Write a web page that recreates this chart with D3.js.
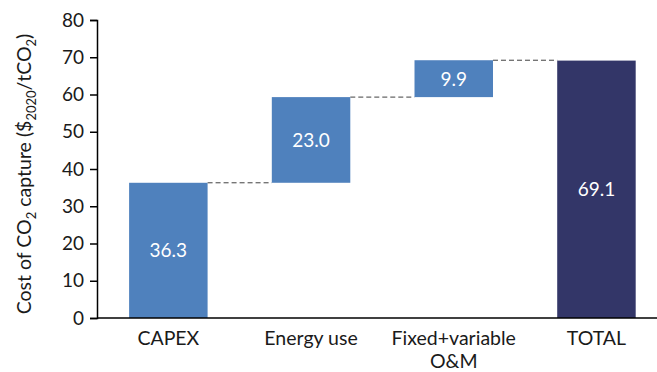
<!DOCTYPE html>
<html>
<head>
<meta charset="utf-8">
<script src="https://cdn.jsdelivr.net/npm/d3@7"></script>
<style>
  html, body { margin: 0; padding: 0; background: #fff; }
  svg { display: block; font-family: Lato, "Open Sans", sans-serif; }
</style>
</head>
<body>
<svg id="chart" width="657" height="372"></svg>
<script>
// Waterfall of the cost of CO2 capture
const categories = ["CAPEX", "Energy use", "Fixed+variable\nO&M", "TOTAL"];
const stepValues = [36.3, 23.0, 9.9];
const totalValue = 69.1;
const yTicks = [0, 10, 20, 30, 40, 50, 60, 70, 80];

const stepColor = "#4F81BD";
const totalColor = "#333668";

const svg = d3.select("#chart");
const W = 657, H = 372;
const m = { left: 97, top: 20, bottom: 54 };
const plotBottom = H - m.bottom;

const x = d3.scaleBand()
  .domain(categories)
  .range([m.left, m.left + 4 * 142.7])
  .paddingInner(0.45)
  .paddingOuter(0.225);

const y = d3.scaleLinear().domain([0, 80]).range([plotBottom, m.top]);

// Build bar extents: floating steps then a full total bar
const bars = [];
let run = 0;
stepValues.forEach((v, i) => {
  bars.push({ cat: categories[i], y0: run, y1: run + v, value: v, total: false });
  run += v;
});
bars.push({ cat: categories[3], y0: 0, y1: totalValue, value: totalValue, total: true });

// Connector lines between consecutive bars
const conn = svg.append("g");
for (let i = 0; i < bars.length - 1; i++) {
  const level = bars[i].y1;
  conn.append("line")
    .attr("x1", x(bars[i].cat) + x.bandwidth())
    .attr("x2", x(bars[i + 1].cat))
    .attr("y1", y(level))
    .attr("y2", y(level))
    .attr("stroke", "#404040")
    .attr("stroke-width", 1)
    .attr("stroke-dasharray", "5,3");
}

svg.append("g").selectAll("rect")
  .data(bars)
  .join("rect")
  .attr("x", d => x(d.cat))
  .attr("width", x.bandwidth())
  .attr("y", d => y(d.y1))
  .attr("height", d => y(d.y0) - y(d.y1))
  .attr("fill", d => d.total ? totalColor : stepColor);

svg.append("g").selectAll("text")
  .data(bars)
  .join("text")
  .attr("x", d => x(d.cat) + x.bandwidth() / 2)
  .attr("y", d => y((d.y0 + d.y1) / 2))
  .attr("dy", "0.36em")
  .attr("text-anchor", "middle")
  .attr("fill", "#fff")
  .attr("font-size", 19)
  .text(d => d3.format(".1f")(d.value));

// Y axis
const yAxis = svg.append("g")
  .attr("transform", `translate(${m.left},0)`)
  .call(d3.axisLeft(y).tickValues(yTicks).tickSize(7).tickPadding(6));
yAxis.select(".domain").attr("stroke", "#000").attr("stroke-width", 1.5);
yAxis.selectAll(".tick line").attr("stroke", "#000").attr("stroke-width", 1.5);
yAxis.selectAll(".tick text")
  .attr("font-size", 19).attr("fill", "#1a1a1a").attr("font-family", "Lato, sans-serif");

// X axis baseline
svg.append("line")
  .attr("x1", m.left).attr("x2", W)
  .attr("y1", plotBottom).attr("y2", plotBottom)
  .attr("stroke", "#000").attr("stroke-width", 1.5);

// Category labels (multi-line)
const xl = svg.append("g").selectAll("text")
  .data(categories)
  .join("text")
  .attr("x", d => x(d) + x.bandwidth() / 2)
  .attr("y", plotBottom + 27)
  .attr("text-anchor", "middle")
  .attr("font-size", 19.5)
  .attr("fill", "#1a1a1a");
xl.each(function (d) {
  const t = d3.select(this);
  d.split("\n").forEach((line, i) => {
    t.append("tspan")
      .attr("x", x(d) + x.bandwidth() / 2)
      .attr("dy", i === 0 ? 0 : 23)
      .text(line);
  });
});

// Y axis title with subscripts
const title = svg.append("text")
  .attr("transform", `translate(31,174) rotate(-90)`)
  .attr("text-anchor", "middle")
  .attr("font-size", 19.5)
  .attr("fill", "#1a1a1a");
const parts = [
  ["Cost of CO", false], ["2", true], [" capture ($", false],
  ["2020", true], ["/tCO", false], ["2", true], [")", false]
];
parts.forEach(([s, sub], i) => {
  const prevSub = i > 0 && parts[i - 1][1];
  const ts = title.append("tspan").text(s);
  if (sub) ts.attr("font-size", 13).attr("dy", 5);
  else if (prevSub) ts.attr("dy", -5);
});
</script>
</body>
</html>
